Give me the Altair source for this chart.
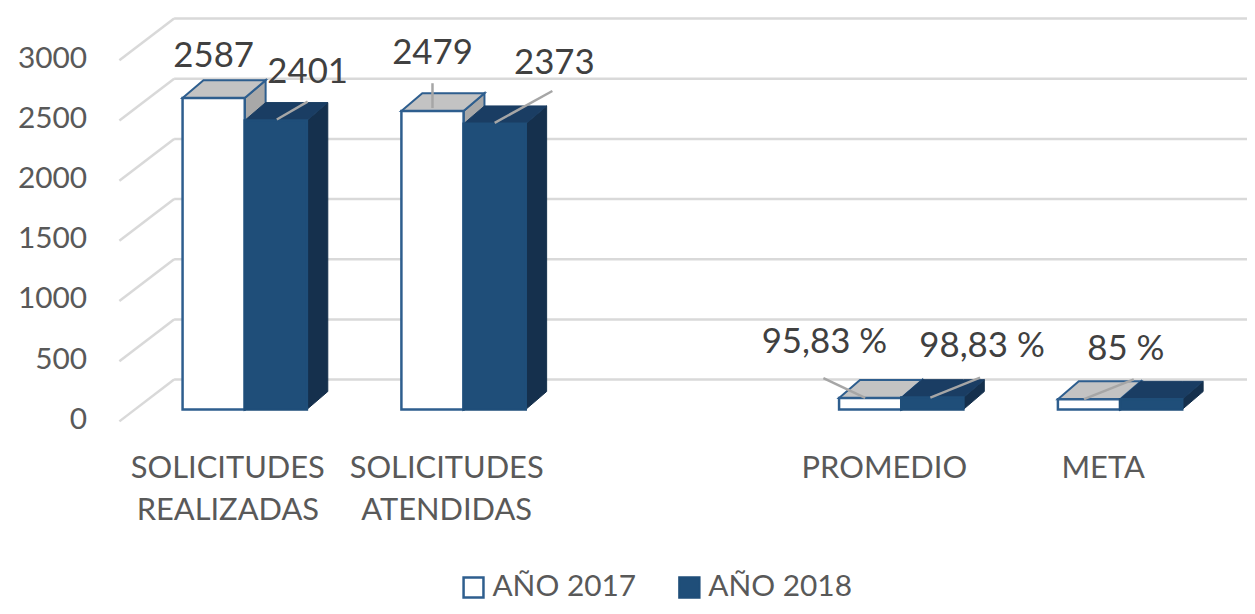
import altair as alt
import pandas as pd

# ---------------- data ----------------
categories = ["SOLICITUDES REALIZADAS", "SOLICITUDES ATENDIDAS", "", "PROMEDIO", "META"]
series = ["AÑO 2017", "AÑO 2018"]
values_2017 = [2587, 2479, None, 95.83, 85]
values_2018 = [2401, 2373, None, 98.83, 85]
labels_2017 = ["2587", "2479", "", "95,83 %", "85 %"]
labels_2018 = ["2401", "2373", "", "98,83 %", ""]
y_ticks = [0, 500, 1000, 1500, 2000, 2500, 3000]

# ---------------- layout / style ----------------
PX_SLOT = 220.0          # pixels per category slot
PX_UNIT = 0.121          # pixels per value unit
X_DOMAIN = [-0.6, 4.58]
Y_DOMAIN = [-99.17, 3239.67]
W = (X_DOMAIN[1] - X_DOMAIN[0]) * PX_SLOT
H = (Y_DOMAIN[1] - Y_DOMAIN[0]) * PX_UNIT

def ux(px):
    return px / PX_SLOT

def uy(px):
    return px / PX_UNIT

BAR_W = ux(62.5)
DEPTH_X = ux(21)
DEPTH_Y = uy(18)
WALL_X = ux(175 - 246)
FLOOR_X = ux(120 - 246)
WALL_DY = uy(30)
FLOOR_DY = uy(12)

FONT = "Lato"
GRID = "#D9D9D9"
WHITE_STROKE = "#2E5E8E"
BLUE = "#1F4E79"
BLUE_TOP = "#1A3D63"
BLUE_SIDE = "#15304D"
GRAY_TOP = "#C3C3C3"
GRAY_SIDE = "#A8A8A8"
LEADER = "#A6A6A6"

# per-label placement (pixels relative to front-top centre of its bar)
label_style = {
    ("AÑO 2017", 0): dict(t=(0, -42), lead=None),
    ("AÑO 2018", 0): dict(t=(32, -49), lead=((32, -19), (1, -1))),
    ("AÑO 2017", 1): dict(t=(0, -58), lead=((0, -28), (0, -3))),
    ("AÑO 2018", 1): dict(t=(60, -61), lead=((58, -33), (0, -1))),
    ("AÑO 2017", 3): dict(t=(-46, -56), lead=((-47, -20), (-5, 0))),
    ("AÑO 2018", 3): dict(t=(50, -52), lead=((48, -20), (-2, 0))),
    ("AÑO 2017", 4): dict(t=(37, -50), lead=((45, -20), (-5, 0))),
}

# ---------------- tables ----------------
bars, sides, tops, texts, leads = [], [], [], [], []
for sname, vals, labs in [(series[0], values_2017, labels_2017), (series[1], values_2018, labels_2018)]:
    for i, (v, lab) in enumerate(zip(vals, labs)):
        if v is None:
            continue
        L = i - BAR_W if sname == series[0] else i
        R = L + BAR_W
        bid = f"{sname}-{i}"
        bars.append(dict(series=sname, L=L, R=R, base=0, v=v))
        sides += [
            dict(series=sname, id=bid, x=R, y=v, y2=0),
            dict(series=sname, id=bid, x=R + DEPTH_X, y=v + DEPTH_Y, y2=DEPTH_Y),
        ]
        tops += [
            dict(series=sname, id=bid, x=L, y=v, y2=v),
            dict(series=sname, id=bid, x=L + DEPTH_X, y=v + DEPTH_Y, y2=v),
            dict(series=sname, id=bid, x=R, y=v + DEPTH_Y, y2=v),
            dict(series=sname, id=bid, x=R + DEPTH_X, y=v + DEPTH_Y, y2=v + DEPTH_Y),
        ]
        st = label_style.get((sname, i))
        if lab and st:
            xc = (L + R) / 2
            texts.append(dict(x=xc + ux(st["t"][0]), y=v - uy(st["t"][1]), label=lab))
            if st["lead"]:
                (a, b), (c, d) = st["lead"]
                leads.append(dict(x=xc + ux(a), y=v - uy(b), x2=xc + ux(c), y2=v - uy(d)))

df_bars = pd.DataFrame(bars)
df_sides = pd.DataFrame(sides)
df_tops = pd.DataFrame(tops)
df_texts = pd.DataFrame(texts)
df_leads = pd.DataFrame(leads)
df_grid = pd.DataFrame(dict(
    t=y_ticks,
    yb=[t + WALL_DY for t in y_ticks],
    yf=[t - FLOOR_DY for t in y_ticks],
    xb=[WALL_X] * len(y_ticks),
    xf=[FLOOR_X] * len(y_ticks),
    xr=[X_DOMAIN[1]] * len(y_ticks),
))
df_cats = pd.DataFrame(dict(
    x=[i - ux(17) for i, c in enumerate(categories) if c],
    label=[c.replace(" ", "\n") for c in categories if c],
))

xs = alt.Scale(domain=X_DOMAIN, nice=False, zero=False)
ys = alt.Scale(domain=Y_DOMAIN, nice=False, zero=False)

y_axis = alt.Axis(values=y_ticks, format="d", labelOffset=10, labelPadding=27, domain=False, ticks=False,
                  grid=False, labelFont=FONT, labelFontSize=30, labelColor="#595959", title=None)

def X(f):
    return alt.X(f, type="quantitative", scale=xs, axis=None)

def Y(f):
    return alt.Y(f, type="quantitative", scale=ys, axis=y_axis)

# y-axis labels sit on the tick values (no marks drawn there)
axis_layer = alt.Chart(pd.DataFrame(dict(t=y_ticks))).mark_point(opacity=0, size=1).encode(
    x=alt.value(0), y=Y("t")
)

# back-wall gridlines
grid_back = alt.Chart(df_grid).mark_rule(color=GRID, strokeWidth=2.5).encode(
    x=X("xb"), x2="xr", y=Y("yb")
)
grid_slant = alt.Chart(df_grid).mark_rule(color=GRID, strokeWidth=2.5).encode(
    x=X("xf"), x2="xb", y=Y("yf"), y2="yb"
)

def faces(df, sname, fill, stroke, sw):
    return alt.Chart(df[df.series == sname]).mark_area(
        fill=fill, stroke=stroke, strokeWidth=sw, opacity=1
    ).encode(x=X("x"), y=Y("y"), y2="y2", detail="id:N")

side17 = faces(df_sides, series[0], GRAY_SIDE, WHITE_STROKE, 2)
top17 = faces(df_tops, series[0], GRAY_TOP, WHITE_STROKE, 2)
side18 = faces(df_sides, series[1], BLUE_SIDE, BLUE_SIDE, 1)
top18 = faces(df_tops, series[1], BLUE_TOP, BLUE_TOP, 1)

fronts = alt.Chart(df_bars).mark_rect(strokeWidth=2.5).encode(
    x=X("L"), x2="R", y=Y("base"), y2="v",
    fill=alt.Fill("series:N", scale=alt.Scale(domain=series, range=["#FFFFFF", BLUE]),
                  legend=alt.Legend(title=None, orient="none", legendX=347, legendY=556,
                                    direction="horizontal", symbolType="square", symbolSize=400,
                                    symbolStrokeColor=WHITE_STROKE, symbolStrokeWidth=2.5,
                                    labelFont=FONT, labelFontSize=30, labelColor="#595959",
                                    labelOffset=4, columnPadding=38)),
    stroke=alt.Stroke("series:N", scale=alt.Scale(domain=series, range=[WHITE_STROKE, BLUE]), legend=None),
)

leaders = alt.Chart(df_leads).mark_rule(color=LEADER, strokeWidth=2.5).encode(
    x=X("x"), x2="x2", y=Y("y"), y2="y2"
)
value_text = alt.Chart(df_texts).mark_text(
    font=FONT, fontSize=35, color="#404040", baseline="middle", align="center"
).encode(x=X("x"), y=Y("y"), text="label:N")

cat_text = alt.Chart(df_cats).mark_text(
    font=FONT, fontSize=31, color="#595959", baseline="top", align="center",
    lineBreak="\n", lineHeight=42
).encode(x=X("x"), y=alt.value(437), text="label:N")

chart = alt.layer(
    axis_layer, grid_back, grid_slant, side17, top17, side18, top18, fronts, leaders, value_text, cat_text
).properties(
    width=W, height=H,
    padding={"left": 106, "top": 10, "right": 0, "bottom": 184},
    autosize=alt.AutoSizeParams(type="none"),
    background="white",
).configure_view(stroke=None)

chart.save("out.html", embed_options={"renderer": "svg", "actions": False})
